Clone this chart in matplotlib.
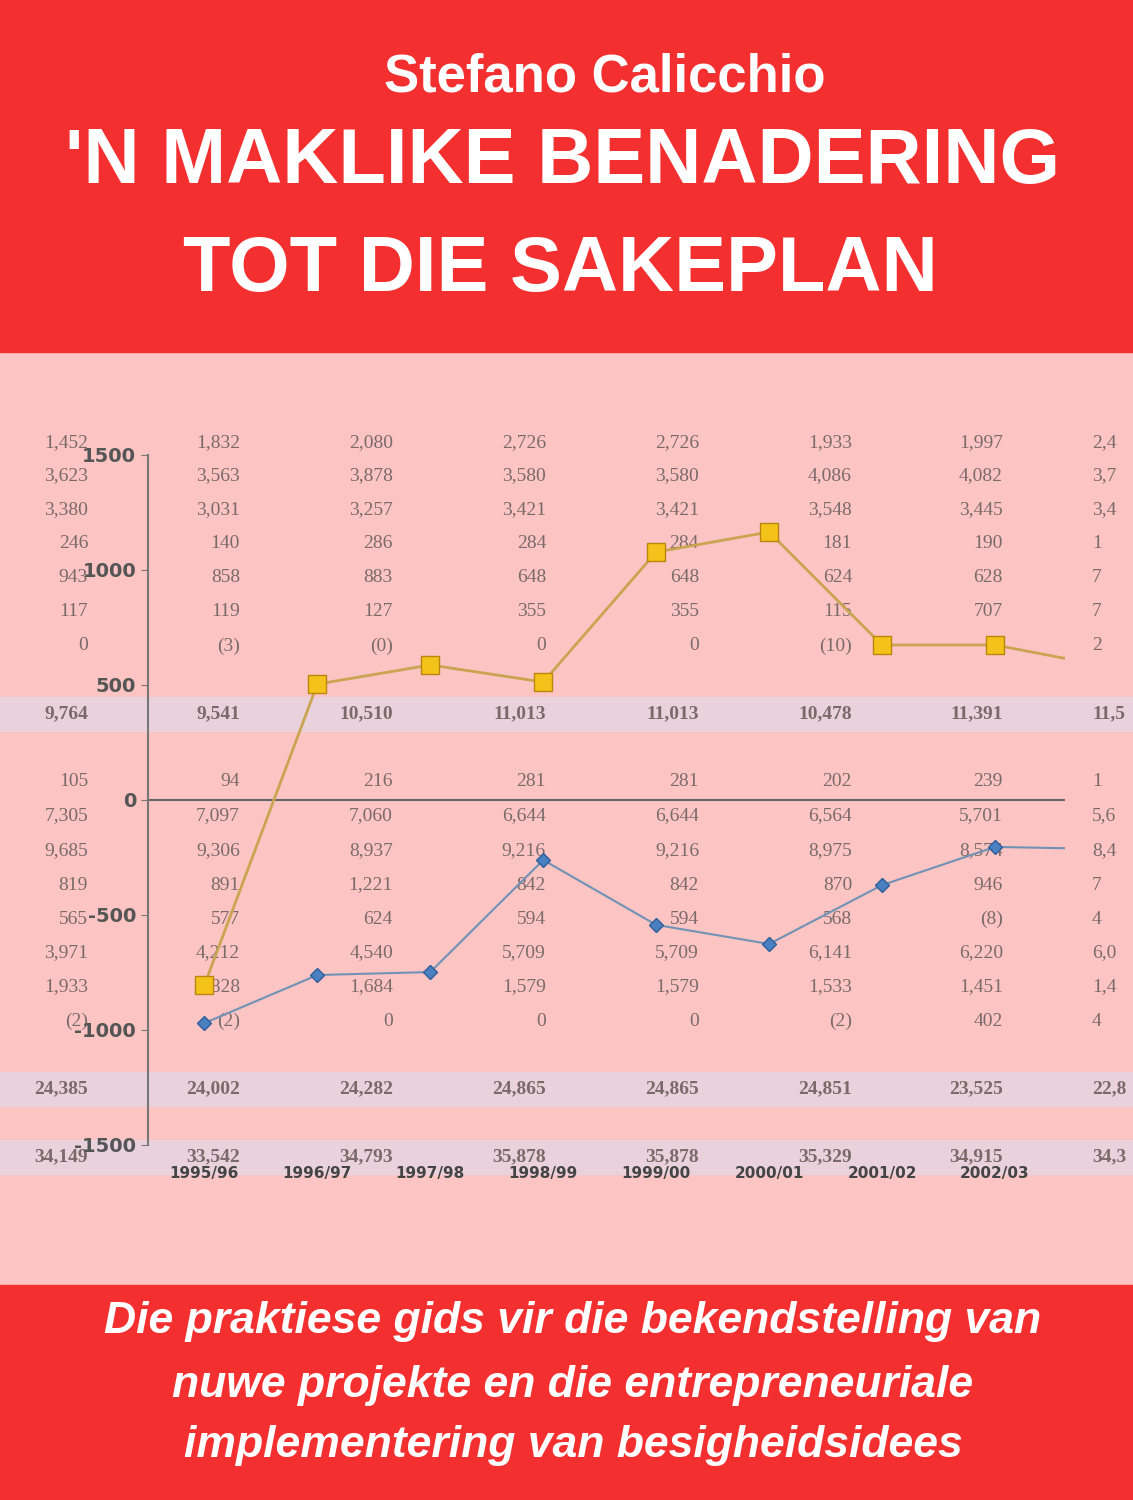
import matplotlib
matplotlib.use("Agg")
import matplotlib.pyplot as plt
import numpy as np

years = ["1995/96","1996/97","1997/98","1998/99","1999/00","2000/01","2001/02","2002/03",""]
yellow = [-804, 504, 587, 513, 1078, 1165, 674, 674, 580]
blue = [-970, -761, -748, -261, -543, -626, -370, -204, -213]
yticks = [1500, 1000, 500, 0, -500, -1000, -1500]

table_rows = [
 ["1,452","1,832","2,080","2,726","2,726","1,933","1,997","2,4"],
 ["3,623","3,563","3,878","3,580","3,580","4,086","4,082","3,7"],
 ["3,380","3,031","3,257","3,421","3,421","3,548","3,445","3,4"],
 ["246","140","286","284","284","181","190","1"],
 ["943","858","883","648","648","624","628","7"],
 ["117","119","127","355","355","115","707","7"],
 ["0","(3)","(0)","0","0","(10)","3","2"],
 ["9,764","9,541","10,510","11,013","11,013","10,478","11,391","11,5"],
 ["105","94","216","281","281","202","239","1"],
 ["7,305","7,097","7,060","6,644","6,644","6,564","5,701","5,6"],
 ["9,685","9,306","8,937","9,216","9,216","8,975","8,574","8,4"],
 ["819","891","1,221","842","842","870","946","7"],
 ["565","577","624","594","594","568","(8)","4"],
 ["3,971","4,212","4,540","5,709","5,709","6,141","6,220","6,0"],
 ["1,933","1,828","1,684","1,579","1,579","1,533","1,451","1,4"],
 ["(2)","(2)","0","0","0","(2)","402","4"],
 ["24,385","24,002","24,282","24,865","24,865","24,851","23,525","22,8"],
 ["34,149","33,542","34,793","35,878","35,878","35,329","34,915","34,3"],
]
row_y = [443,476,510,544,578,612,646,714,782,816,851,885,919,953,987,1021,1089,1157]
bold_rows = {7,16,17}
col_x = [88,240,393,546,699,852,1003]

RED = "#f42f30"; PINK = "#fdc4c4"; BAND = "#ead2dc"
W, H = 1133, 1500
fig = plt.figure(figsize=(W/100, H/100), dpi=100)
bg = fig.add_axes([0,0,1,1]); bg.set_xlim(0,W); bg.set_ylim(H,0); bg.axis("off")
bg.add_patch(plt.Rectangle((0,0),W,H,color=PINK))
bg.add_patch(plt.Rectangle((0,0),W,352,color=RED))
bg.add_patch(plt.Rectangle((0,1285),W,215,color=RED))
for yb in (714,1089,1157):
    bg.add_patch(plt.Rectangle((0,yb-17),W,34,color=BAND))
for i,(row,y) in enumerate(zip(table_rows,row_y)):
    for j,v in enumerate(row):
        kw = dict(va="center", fontsize=14, color="#7a6a6a", family="Liberation Serif",
                  fontweight="bold" if i in bold_rows else "normal")
        if j < 7:
            bg.text(col_x[j], y, v, ha="right", **kw)
        else:
            bg.text(1092, y, v, ha="left", **kw)

bg.text(605, 78, "Stefano Calicchio", ha="center", va="center", color="white", fontsize=38,
        fontweight="bold", family="Liberation Sans")
bg.text(563, 163, "'N MAKLIKE BENADERING", ha="center", va="center", color="white", fontsize=56,
        fontweight="bold", family="Liberation Sans")
bg.text(560, 270, "TOT DIE SAKEPLAN", ha="center", va="center", color="white", fontsize=56,
        fontweight="bold", family="Liberation Sans")
for t,y in [("Die praktiese gids vir die bekendstelling van",1322),
            ("nuwe projekte en die entrepreneuriale",1385),
            ("implementering van besigheidsidees",1445)]:
    bg.text(573, y, t, ha="center", va="center", color="white", fontsize=32,
            fontweight="bold", fontstyle="italic", family="Liberation Sans")

ax = fig.add_axes([148/W, 1-1145/H, (1065-148)/W, (1145-455)/H])
ax.patch.set_alpha(0)
x = np.arange(len(years))
ax.set_xlim(-0.5, 7.62); ax.set_ylim(-1500, 1500)
ax.plot(x, yellow, color="#c9a552", lw=2, marker="s", ms=13, mfc="#f5c21b", mec="#b8860b", zorder=3)
ax.plot(x, blue, color="#6f92b5", lw=1.5, marker="D", ms=7, mfc="#4a7fc0", mec="#2f5f9a", zorder=3)
ax.axhline(0, color="#666666", lw=1.5)
for s in ("top","right","bottom"): ax.spines[s].set_visible(False)
ax.spines["left"].set_color("#777777"); ax.spines["left"].set_linewidth(1.5)
ax.set_yticks(yticks)
ax.set_yticklabels([str(v) for v in yticks], fontsize=14, color="#555555", fontweight="bold")
ax.tick_params(axis="y", length=5, color="#777777")
ax.set_xticks(x[:8]); ax.set_xticklabels(years[:8], fontsize=11, fontweight="bold", color="#444444")
ax.tick_params(axis="x", length=0, pad=15)
fig.savefig("out.png", dpi=100)
